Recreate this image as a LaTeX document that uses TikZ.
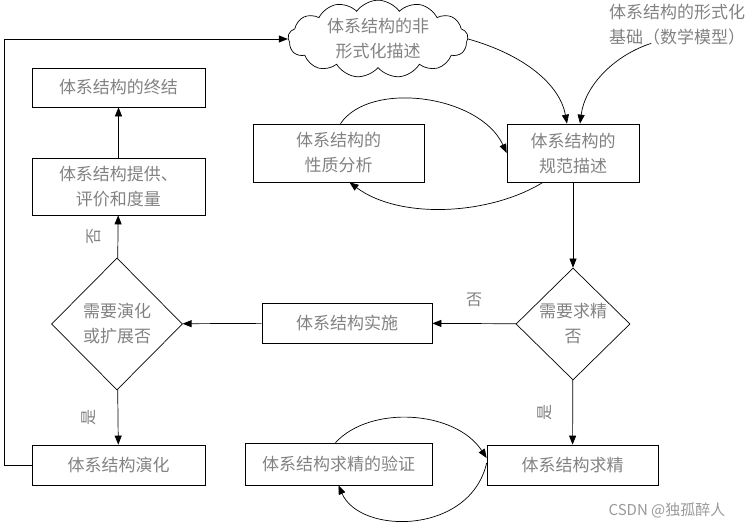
\documentclass[tikz,border=0pt]{standalone}
\usepackage{fontspec}
\setmainfont{Noto Sans CJK SC}
\usetikzlibrary{arrows.meta,
	calc,
	shapes}
\definecolor{txtgray}{RGB}{130,130,130}

\begin{document}
\begin{tikzpicture}[x=1pt,y=-1pt]
      \tikzstyle{every node}=[font=\fontsize{17}{25}\selectfont,text=txtgray]
      \tikzstyle{box}=[draw=black,rectangle,inner sep=0pt,align=center,line width=0.7pt]
      \tikzstyle{choice}=[draw=black,diamond,inner sep=0pt,align=center,line width=0.7pt]
      \tikzstyle{arr}=[-{Triangle[length=9pt,width=7pt]},line width=0.7pt]
      \tikzstyle{lbl}=[font=\fontsize{16}{18}\selectfont,inner sep=0pt]
      \useasboundingbox (0,0) rectangle (756,528);
      \node[draw=black,cloud,cloud puffs=13,cloud puff arc=110,aspect=3,inner sep=0pt,
            minimum width=180pt,minimum height=58pt,align=center,line width=0.7pt] (cloud) at (378,39) {体系结构的非\\形式化描述};
      \node[align=left,anchor=north west,inner sep=0pt] (basis) at (609,4) {体系结构的形式化\\基础（数学模型）};
      \node[box,minimum width=173pt,minimum height=39pt] (end) at (118.5,87.5) {体系结构的终结};
      \node[box,minimum width=173pt,minimum height=57pt] (eval) at (118.5,186.5) {体系结构提供、\\评价和度量};
      \node[choice,minimum width=131pt,minimum height=132pt] (evq) at (117,324) {需要演化\\或扩展否};
      \node[box,minimum width=173pt,minimum height=40pt] (evo) at (118.5,465) {体系结构演化};
      \node[box,minimum width=171pt,minimum height=58pt] (prop) at (338.5,153) {体系结构的\\性质分析};
      \node[box,minimum width=132pt,minimum height=58pt] (spec) at (573,153) {体系结构的\\规范描述};
      \node[choice,minimum width=114pt,minimum height=112pt] (refq) at (573,324) {需要求精\\否};
      \node[box,minimum width=170pt,minimum height=40pt] (impl) at (347,323) {体系结构实施};
      \node[box,minimum width=187pt,minimum height=42pt] (check) at (338.5,464) {体系结构求精的验证};
      \node[box,minimum width=171pt,minimum height=40pt] (refine) at (572.5,465) {体系结构求精};
      \node[font=\fontsize{15}{18}\selectfont,text=gray!80] (mark) at (667,510) {CSDN @独孤醉人};
      \draw[arr] (spec) -- (refq);
      \draw[arr] (refq) -- (impl) node[lbl,midway,yshift=24pt] {否};
      \draw[arr] (impl) -- (evq);
      \draw[arr] (evq) -- (eval) node[lbl,midway,xshift=-24pt,rotate=90] {否};
      \draw[arr] (eval) -- (end);
      \draw[arr] (evq) -- (evo) node[lbl,midway,xshift=-29pt,rotate=90] {是};
      \draw[arr] (refq) -- (refine) node[lbl,midway,xshift=-28pt,rotate=90] {是};
      \draw[arr] (evo.west) -- ++(-27,0) |- (cloud.west);
      \draw[arr] (cloud.east) .. controls (525,55) and (560,85) .. ($(spec.north)+(-6,0)$);
      \draw[arr] ($(basis.south)+(-26,-2)$) .. controls (615,55) and (585,85) .. ($(spec.north)+(7,0)$);
      \draw[arr] ($(prop.north)+(2,0)$) .. controls (370,80) and (480,95) .. (spec.west);
      \draw[arr] ($(spec.south)+(-30,0)$) .. controls (490,215) and (400,220) .. ($(prop.south)+(11,0)$);
      \draw[arr] ($(check.north)+(-3,0)$) .. controls (370,405) and (455,410) .. ($(refine.west)+(0,-7)$);
      \draw[arr] ($(refine.west)+(0,-2)$) .. controls (470,535) and (360,535) .. (check.south);
\end{tikzpicture}
\end{document}
